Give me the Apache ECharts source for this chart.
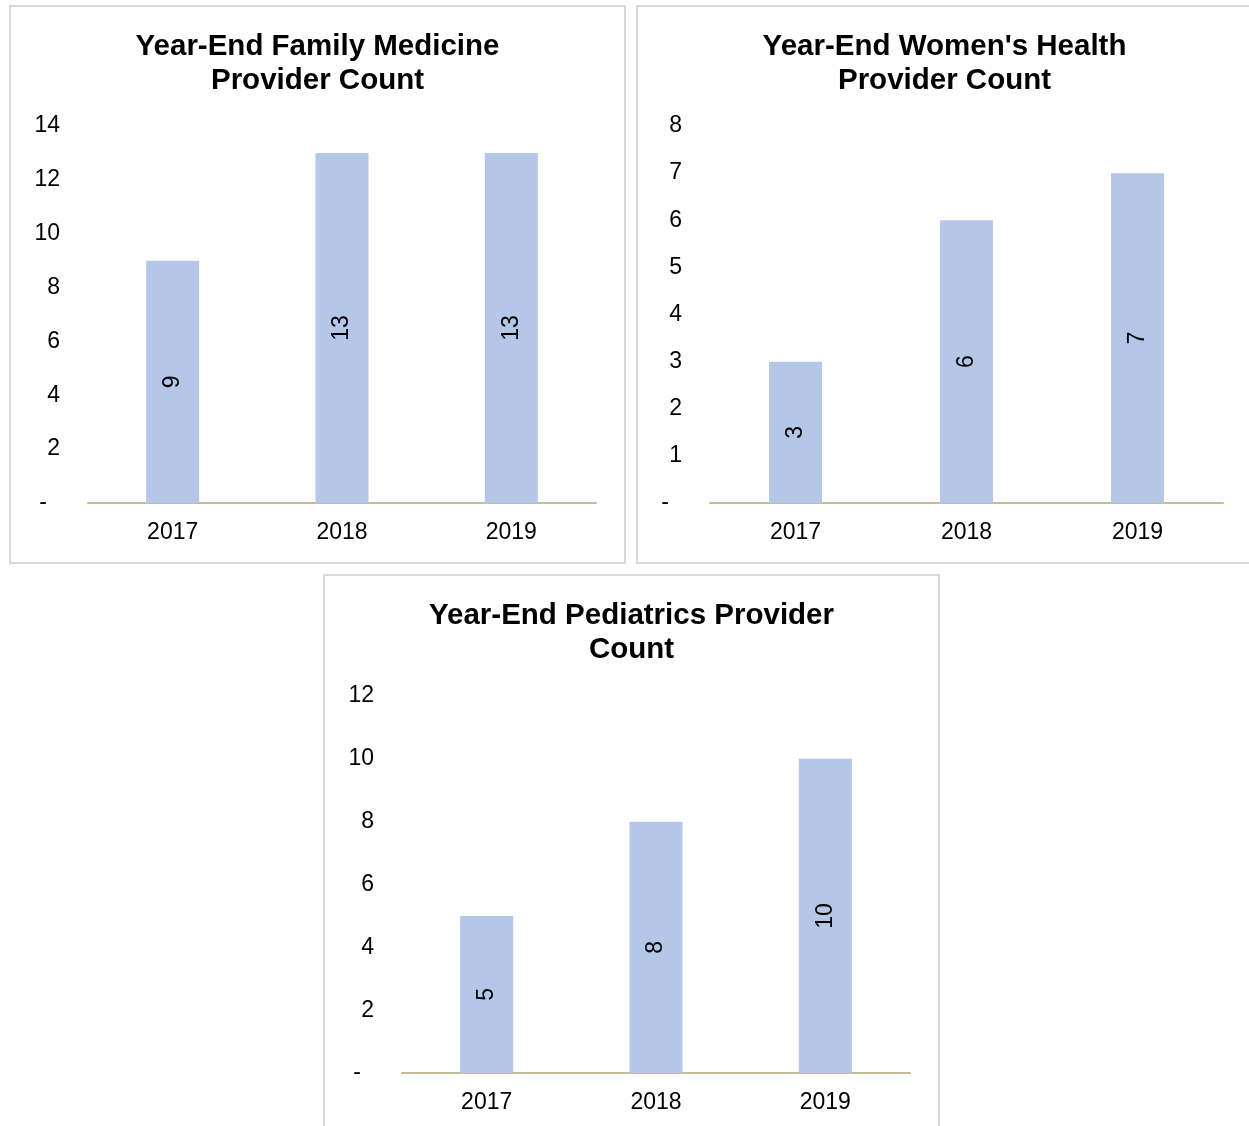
<!DOCTYPE html>
<html>
<head>
<meta charset="utf-8">
<script src="https://cdn.jsdelivr.net/npm/echarts@6/dist/echarts.min.js"></script>
<style>
html,body{margin:0;padding:0;background:#fff;}
#c{width:1249px;height:1126px;}
</style>
</head>
<body>
<div id="c"></div>
<script>
const categories = ['2017', '2018', '2019'];
const familyMedicine = [9, 13, 13];
const womensHealth = [3, 6, 7];
const pediatrics = [5, 8, 10];
const titles = ['Year-End Family Medicine\nProvider Count', "Year-End Women's Health\nProvider Count", 'Year-End Pediatrics Provider\nCount'];
const yMax = [14, 8, 12];
const yInterval = [2, 1, 2];

const FONT = 'Liberation Sans, Arial, sans-serif';
const BAR = '#B4C7E7';
const AXIS = '#C4BD97';
const BORDER = '#D9D9D9';

const panels = [
  {x: 10, y: 6, w: 615, h: 557, cx: 317.5, grid: {left: 88, top: 126, width: 508, height: 377}},
  {x: 637, y: 6, w: 615, h: 557, cx: 944.5, grid: {left: 710, top: 126, width: 513, height: 377}},
  {x: 324, y: 575, w: 615, h: 600, cx: 631.5, grid: {left: 402, top: 696, width: 508, height: 377}}
];
const seriesData = [familyMedicine, womensHealth, pediatrics];

const option = {
  backgroundColor: '#fff',
  animation: false,
  graphic: panels.map(p => ({
    type: 'rect', shape: {x: p.x, y: p.y, width: p.w, height: p.h},
    style: {fill: 'none', stroke: BORDER, lineWidth: 2}, z: -1
  })),
  title: panels.map((p, i) => ({
    text: titles[i], left: p.cx, top: p.y + 24, textAlign: 'center', padding: 0,
    textStyle: {fontFamily: FONT, fontSize: 29.5, fontWeight: 'bold', color: '#000', lineHeight: 34}
  })),
  grid: panels.map(p => Object.assign({containLabel: false}, p.grid)),
  xAxis: panels.map((p, i) => ({
    type: 'category', gridIndex: i, data: categories,
    axisLine: {lineStyle: {color: AXIS, width: 2}},
    axisTick: {show: false},
    axisLabel: {fontFamily: FONT, fontSize: 23, color: '#000', margin: 18}
  })),
  yAxis: panels.map((p, i) => ({
    type: 'value', gridIndex: i, min: 0, max: yMax[i], interval: yInterval[i],
    splitLine: {show: false}, axisLine: {show: false}, axisTick: {show: false},
    axisLabel: {
      fontFamily: FONT, fontSize: 23, color: '#000', margin: 28,
      formatter: v => v === 0 ? '{d|-}' : String(v),
      rich: {d: {fontFamily: FONT, fontSize: 23, color: '#000', padding: [0, 13, 0, 0]}}
    }
  })),
  series: seriesData.map((d, i) => ({
    type: 'bar', xAxisIndex: i, yAxisIndex: i, data: d, barWidth: 53,
    itemStyle: {color: BAR},
    label: {show: true, position: 'inside', rotate: 90, fontFamily: FONT, fontSize: 23, color: '#000'}
  }))
};

const chart = echarts.init(document.getElementById('c'), null, {renderer: 'canvas'});
chart.setOption(option);
</script>
</body>
</html>
